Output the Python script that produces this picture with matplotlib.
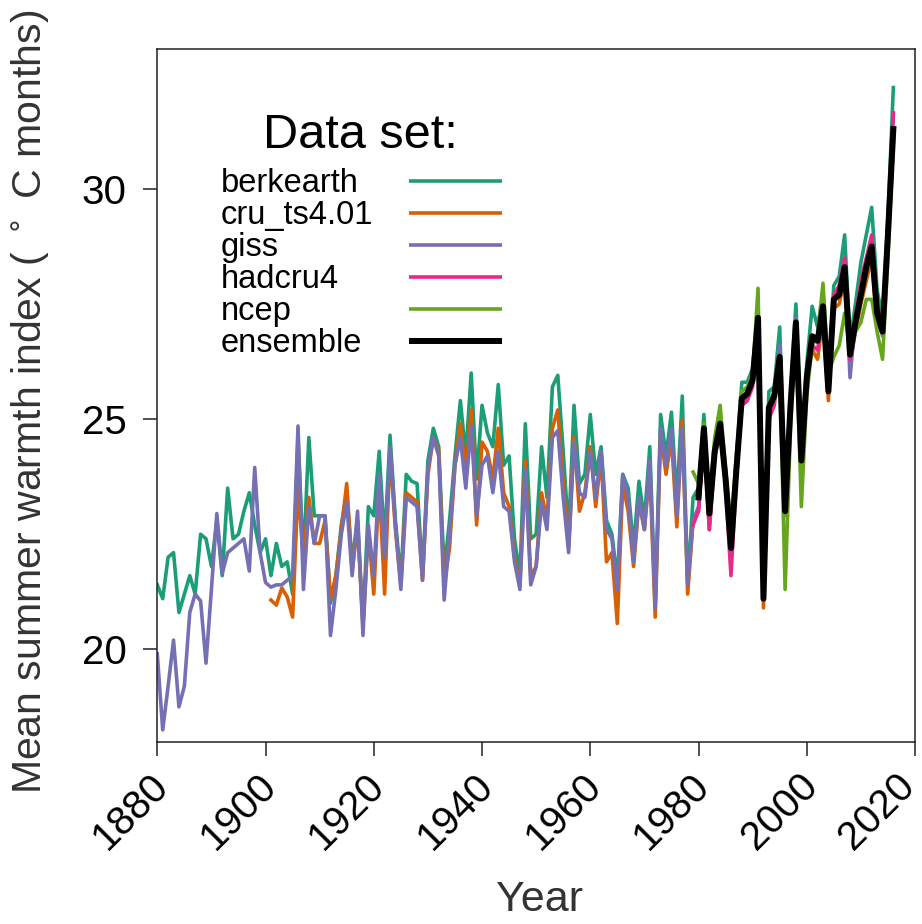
import numpy as np
import matplotlib
matplotlib.use('Agg')
import matplotlib.pyplot as plt
from matplotlib.transforms import ScaledTranslation

plt.rcParams['font.family'] = ['Liberation Sans', 'DejaVu Sans']

# ============================== Data ==========================================
years_long = np.arange(1880, 2017)      # berkearth, giss
years_cru = np.arange(1901, 2017)       # cru_ts4.01
years_short = np.arange(1979, 2017)     # hadcru4, ncep
years_ens = np.arange(1980, 2017)       # ensemble

berkearth = [21.4, 21.1, 22.0, 22.1, 20.8, 21.2, 21.6, 21.2, 22.5, 22.4,
             21.8, 22.8, 21.6, 23.5, 22.4, 22.5, 23.0, 23.4, 22.7, 22.1,
             22.4, 21.6, 22.3, 21.8, 21.9, 21.2, 24.6, 21.9, 24.6, 22.9,
             22.9, 22.9, 21.0, 21.6, 22.7, 23.4, 21.9, 22.8, 20.6, 23.1,
             22.9, 24.3, 22.3, 24.65, 22.8, 21.5, 23.8, 23.65, 23.6, 21.6,
             24.1, 24.8, 24.4, 21.7, 22.8, 24.2, 25.4, 24.2, 26.0, 23.7,
             25.3, 24.7, 24.4, 25.75, 24.0, 24.2, 22.4, 21.6, 24.9, 22.4,
             22.5, 24.4, 23.3, 25.7, 25.95, 24.3, 22.5, 25.3, 23.6, 23.8,
             25.1, 23.8, 24.4, 22.8, 22.5, 21.5, 23.8, 23.5, 22.2, 23.65,
             22.8, 24.4, 21.0, 25.1, 24.2, 25.15, 23.2, 25.5, 21.4, 23.3,
             23.5, 25.1, 23.1, 24.5, 25.0, 23.9, 22.4, 24.1, 25.8, 25.8,
             26.1, 27.3, 21.3, 25.6, 25.7, 27.0, 23.3, 25.5, 27.5, 24.4,
             26.2, 27.45, 27.0, 27.7, 25.9, 27.9, 28.1, 29.0, 26.7, 27.5,
             28.4, 29.0, 29.6, 27.8, 27.2, 29.4, 32.2]

giss = [19.9, 18.25, 19.2, 20.2, 18.75, 19.2, 20.8, 21.2, 21.05, 19.7,
        21.3, 22.95, 21.65, 22.1, 22.2, 22.3, 22.4, 21.7, 23.95, 22.1,
        21.45, 21.35, 21.4, 21.4, 21.5, 21.6, 24.85, 21.3, 23.1, 22.3,
        22.9, 22.9, 20.3, 21.3, 22.5, 23.2, 21.6, 23.0, 20.3, 22.7,
        21.6, 23.8, 22.0, 24.4, 22.7, 21.3, 23.3, 23.2, 23.1, 21.5,
        23.9, 24.6, 24.2, 21.07, 22.5, 24.0, 24.6, 23.5, 24.85, 22.9,
        24.0, 24.2, 23.4, 24.3, 23.1, 23.0, 21.9, 21.3, 23.9, 21.4,
        21.8, 23.2, 22.6, 24.6, 24.75, 23.3, 22.1, 24.5, 23.4, 23.3,
        24.3, 23.3, 24.3, 22.6, 22.4, 21.3, 23.8, 23.3, 21.9, 23.3,
        22.6, 24.1, 20.9, 24.8, 24.0, 24.8, 22.9, 24.8, 21.4, 22.8,
        23.1, 24.7, 22.8, 24.3, 24.8, 23.7, 22.1, 23.9, 25.4, 25.5,
        25.9, 27.1, 21.2, 25.3, 25.6, 26.6, 23.0, 25.3, 27.2, 24.0,
        25.9, 26.8, 26.8, 27.3, 25.7, 27.6, 27.9, 28.4, 25.9, 27.2,
        27.8, 28.2, 28.8, 27.3, 26.8, 29.0, 31.6]

cru = [21.07, 20.96, 21.33, 21.14, 20.7, 23.5, 22.0, 23.3, 22.3,
       22.3, 22.8, 21.1, 21.6, 22.6, 23.6, 21.7, 22.7, 20.5, 22.6,
       21.2, 23.6, 21.2, 24.3, 22.6, 21.4, 23.4, 23.3, 23.2, 21.5,
       23.8, 24.6, 24.3, 21.4, 22.2, 24.0, 24.9, 23.8, 25.2, 22.7,
       24.5, 24.3, 23.7, 24.8, 23.4, 23.1, 22.0, 21.4, 24.1, 21.6,
       21.8, 23.4, 22.8, 24.8, 25.2, 23.6, 22.2, 24.6, 23.0, 23.4,
       24.4, 23.1, 24.2, 21.9, 22.1, 20.56, 23.6, 23.0, 21.8, 23.2,
       22.6, 23.9, 20.7, 24.7, 23.8, 24.6, 22.66, 24.98, 21.2, 22.8,
       23.0, 24.6, 22.6, 24.2, 24.7, 23.6, 22.0, 23.8, 25.3, 25.4,
       25.8, 27.0, 20.9, 25.1, 25.4, 26.3, 22.9, 25.2, 27.0, 23.9,
       25.8, 26.5, 26.3, 27.2, 25.4, 27.4, 27.5, 28.1, 26.2, 26.9,
       27.5, 28.0, 28.5, 27.0, 27.0, 28.8, 31.0]

hadcru4 = [22.7, 23.0, 24.7, 22.6, 24.2, 24.8, 23.5, 21.6, 23.7, 25.3,
           25.4, 25.7, 27.1, 21.2, 25.0, 25.3, 26.4, 23.0, 25.2, 27.1,
           24.0, 25.8, 26.6, 26.5, 27.3, 25.7, 27.7, 27.9, 28.5, 26.3,
           27.2, 28.0, 28.5, 29.0, 27.5, 27.0, 29.3, 31.65]

ncep = [23.85, 23.6, 24.9, 23.2, 24.6, 25.3, 23.9, 22.7, 24.2, 25.6,
        25.7, 26.0, 27.84, 21.4, 25.3, 25.4, 26.2, 21.3, 24.8, 26.9,
        23.1, 25.5, 26.6, 26.8, 27.95, 26.0, 26.35, 26.6, 27.3, 26.5,
        26.9, 27.1, 27.6, 27.6, 26.9, 26.3, 28.5, 31.0]

ensemble = [23.3, 24.8, 22.95, 24.3, 24.9, 23.7, 22.2, 23.9, 25.45, 25.55,
            25.85, 27.2, 21.1, 25.25, 25.5, 26.35, 23.0, 25.3, 27.1, 24.1,
            25.9, 26.8, 26.7, 27.45, 25.6, 27.6, 27.7, 28.3, 26.4, 27.1,
            27.7, 28.3, 28.75, 27.3, 26.9, 29.0, 31.3]

names = ['berkearth', 'cru_ts4.01', 'giss', 'hadcru4', 'ncep', 'ensemble']
colors = ['#1B9E77', '#D95F02', '#7570B3', '#E7298A', '#66A61E', '#000000']
widths = [2.6, 2.6, 2.6, 2.6, 2.6, 4.3]

series = [(years_long, berkearth), (years_cru, cru), (years_long, giss),
          (years_short, hadcru4), (years_short, ncep), (years_ens, ensemble)]

# ============================== Plot ==========================================
fig = plt.figure(figsize=(9.22, 9.24), dpi=100)
ax = fig.add_axes([0.1706, 0.1966, 0.8218, 0.75])

for (x, y), c, lw in zip(series, colors, widths):
    ax.plot(x, y, color=c, lw=lw)

ax.set_xlim(1880, 2020)
ax.set_ylim(17.98, 33.03)
ax.set_xticks(np.arange(1880, 2021, 20))
ax.set_yticks([20, 25, 30])

for s in ax.spines.values():
    s.set_linewidth(1.1)
    s.set_color('#222222')

ax.tick_params(axis='both', length=10, width=1.1, color='#222222')
ax.tick_params(axis='y', pad=12, labelsize=29)
ax.tick_params(axis='x', pad=7, labelsize=29)
ax.set_xticklabels([str(v) for v in range(1880, 2021, 20)],
                   rotation=45, ha='right', va='top', rotation_mode='anchor')
# R-style: pull the rotated labels a little left so they end near the tick,
# the last one a bit more so it stays inside the figure
xlabs = ax.get_xticklabels()
for k, lab in enumerate(xlabs):
    dx = -14 if k == len(xlabs) - 1 else -6
    lab.set_transform(lab.get_transform() + ScaledTranslation(dx/72, 0, fig.dpi_scale_trans))

ax.set_xlabel('Year', fontsize=31, color='#333333')
ax.xaxis.set_label_coords(0.505, -0.198)
ax.set_ylabel(r'Mean summer warmth index ( $^\circ$ C months)', fontsize=29.5,
              color='#333333')
ax.yaxis.set_label_coords(-0.14, 0.491)

# -------------------------- legend (drawn by hand) ----------------------------
ax.text(0.2676, 0.858, 'Data set:', transform=ax.transAxes, fontsize=35,
        ha='center', va='baseline')
for i, (nm, c, lw) in enumerate(zip(names, colors, widths)):
    yb = 0.7945 - i*0.0462
    yl = 0.8104 - i*0.0462
    ax.text(0.0837, yb, nm, transform=ax.transAxes, fontsize=23.5,
            ha='left', va='baseline')
    ax.plot([0.332, 0.455], [yl, yl], transform=ax.transAxes, color=c, lw=lw,
            solid_capstyle='butt')

fig.savefig('out.png', dpi=100)
